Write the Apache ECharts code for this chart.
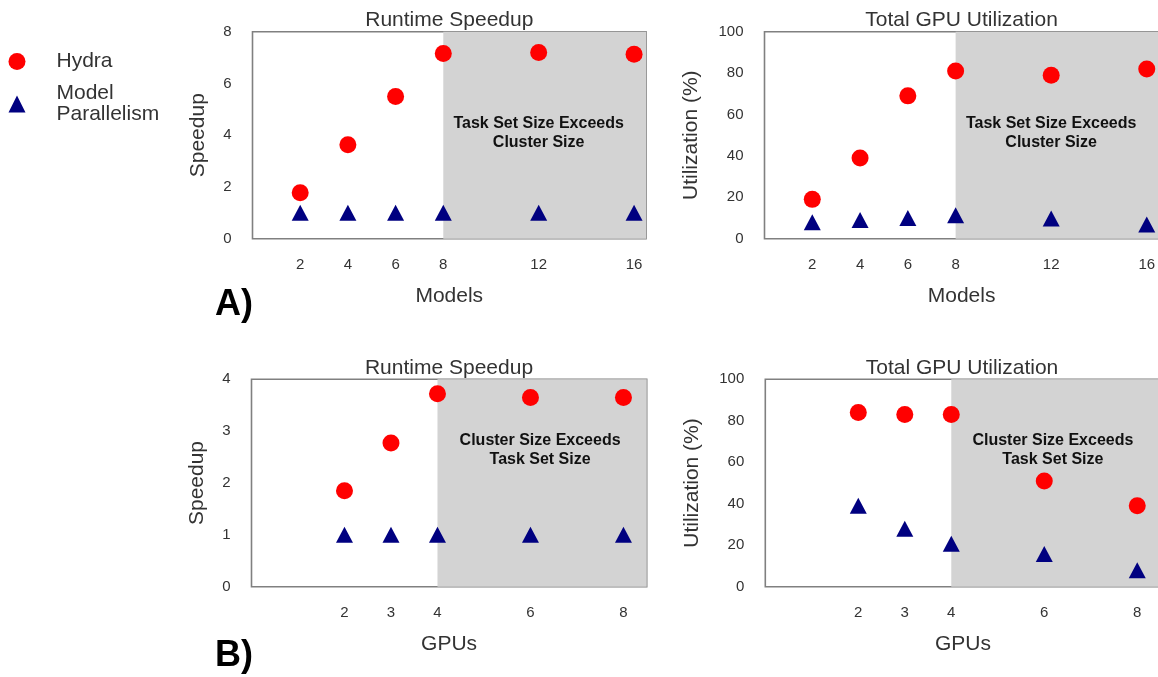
<!DOCTYPE html>
<html>
<head>
<meta charset="utf-8">
<script src="https://cdn.jsdelivr.net/npm/echarts@6/dist/echarts.min.js"></script>
<style>
  html, body { margin: 0; padding: 0; background: #fff; }
  #main { width: 1158px; height: 677px; }
</style>
</head>
<body>
<div id="main"></div>
<script>
// A) varying number of models
var modelsX = [2, 4, 6, 8, 12, 16];
var speedupHydraA = [1.78, 3.63, 5.5, 7.16, 7.2, 7.13];
var speedupMpA = [1, 1, 1, 1, 1, 1];
var utilHydraA = [19, 39, 69, 81, 79, 82];
var utilMpA = [8, 9, 10, 11.3, 9.8, 6.8];

// B) varying number of GPUs
var gpusX = [2, 3, 4, 6, 8];
var speedupHydraB = [1.85, 2.77, 3.72, 3.65, 3.65];
var speedupMpB = [1, 1, 1, 1, 1];
var utilHydraB = [84, 83, 83, 51, 39];
var utilMpB = [39, 28, 20.7, 15.8, 7.9];

var xMaxA = 16.5, shadeFromA = 8;
var xMaxB = 8.5, shadeFromB = 4;
var noteA = 'Task Set Size Exceeds\nCluster Size';
var noteB = 'Cluster Size Exceeds\nTask Set Size';

var FONT = 'Liberation Sans, Arial, sans-serif';
var TXT = '#333';

function pairs(xs, ys) {
  return xs.map(function (x, i) { return [x, ys[i]]; });
}

var grids = [
  { left: 252.5, top: 31.7, width: 393.5, height: 207 },
  { left: 764.5, top: 31.7, width: 394.2, height: 207 },
  { left: 251.5, top: 379.3, width: 395.2, height: 207.4 },
  { left: 765.3, top: 379.3, width: 395.2, height: 207.4 }
].map(function (g) {
  g.show = true;
  g.borderColor = '#808080';
  g.borderWidth = 1.6;
  g.backgroundColor = 'transparent';
  g.containLabel = false;
  g.outerBoundsMode = 'none';
  return g;
});

function xAxis(idx, max, ticks, name) {
  return {
    type: 'value', gridIndex: idx, min: 0, max: max,
    name: name, nameLocation: 'middle', nameGap: 47,
    nameTextStyle: { fontFamily: FONT, fontSize: 21, color: TXT },
    axisLine: { show: false }, axisTick: { show: false },
    splitLine: { show: false },
    axisLabel: { customValues: ticks, margin: 19, fontFamily: FONT, fontSize: 15, color: TXT }
  };
}

function yAxis(idx, max, interval, name, gap) {
  return {
    type: 'value', gridIndex: idx, min: 0, max: max, interval: interval,
    name: name, nameLocation: 'middle', nameGap: gap,
    nameTextStyle: { fontFamily: FONT, fontSize: 21, color: TXT },
    axisLine: { show: false }, axisTick: { show: false },
    splitLine: { show: false },
    axisLabel: { margin: 21, fontFamily: FONT, fontSize: 15, color: TXT }
  };
}

function shade(from, to, note, offset) {
  return {
    silent: true,
    itemStyle: { color: '#d3d3d3' },
    label: {
      show: true, position: 'inside', offset: offset,
      formatter: note, fontFamily: FONT, fontSize: 16, fontWeight: 'bold',
      color: '#111', lineHeight: 18.5, align: 'center'
    },
    data: [[{ xAxis: from }, { xAxis: to }]]
  };
}

function hydra(idx, data, area) {
  return {
    name: 'Hydra', type: 'scatter', xAxisIndex: idx, yAxisIndex: idx,
    symbol: 'circle', symbolSize: 17, itemStyle: { color: '#ff0000', opacity: 1 },
    data: data, markArea: area, z: 3
  };
}

function mp(idx, data) {
  return {
    name: 'Model Parallelism', type: 'scatter', xAxisIndex: idx, yAxisIndex: idx,
    symbol: 'triangle', symbolSize: [17, 16], itemStyle: { color: '#000080', opacity: 1 },
    data: data, z: 3
  };
}

function title(text, x, y) {
  return {
    text: text, left: x, top: y, textAlign: 'center', padding: 0,
    textStyle: { fontFamily: FONT, fontSize: 21, fontWeight: 'normal', color: TXT }
  };
}

var chart = echarts.init(document.getElementById('main'), null, { renderer: 'canvas' });

chart.setOption({
  backgroundColor: '#fff',
  animation: false,
  title: [
    title('Runtime Speedup', 449.3, 10),
    title('Total GPU Utilization', 961.6, 10),
    title('Runtime Speedup', 449, 357.5),
    title('Total GPU Utilization', 962, 357.5)
  ],
  legend: {
    orient: 'vertical', left: 8.5, top: 51, itemGap: 11, padding: 0,
    itemWidth: 17, itemHeight: 17,
    data: [
      { name: 'Hydra', icon: 'circle' },
      { name: 'Model Parallelism', icon: 'triangle' }
    ],
    formatter: function (n) { return n.replace(' ', '\n'); },
    textStyle: { fontFamily: FONT, fontSize: 21, color: TXT, lineHeight: 21, padding: [0, 0, 0, 26] }
  },
  grid: grids,
  xAxis: [
    xAxis(0, xMaxA, modelsX, 'Models'),
    xAxis(1, xMaxA, modelsX, 'Models'),
    xAxis(2, xMaxB, gpusX, 'GPUs'),
    xAxis(3, xMaxB, gpusX, 'GPUs')
  ],
  yAxis: [
    yAxis(0, 8, 2, 'Speedup', 44),
    yAxis(1, 100, 20, 'Utilization (%)', 63),
    yAxis(2, 4, 1, 'Speedup', 44),
    yAxis(3, 100, 20, 'Utilization (%)', 63)
  ],
  series: [
    hydra(0, pairs(modelsX, speedupHydraA), shade(shadeFromA, xMaxA, noteA, [-6, -2])),
    mp(0, pairs(modelsX, speedupMpA)),
    hydra(1, pairs(modelsX, utilHydraA), shade(shadeFromA, xMaxA, noteA, [-6, -2])),
    mp(1, pairs(modelsX, utilMpA)),
    hydra(2, pairs(gpusX, speedupHydraB), shade(shadeFromB, xMaxB, noteB, [-2, -33])),
    mp(2, pairs(gpusX, speedupMpB)),
    hydra(3, pairs(gpusX, utilHydraB), shade(shadeFromB, xMaxB, noteB, [-3, -33])),
    mp(3, pairs(gpusX, utilMpB))
  ],
  graphic: [
    { type: 'text', left: 215, top: 287, style: { text: 'A)', font: 'bold 36px ' + FONT, fill: '#000' } },
    { type: 'text', left: 215, top: 638, style: { text: 'B)', font: 'bold 36px ' + FONT, fill: '#000' } }
  ]
});
</script>
</body>
</html>
